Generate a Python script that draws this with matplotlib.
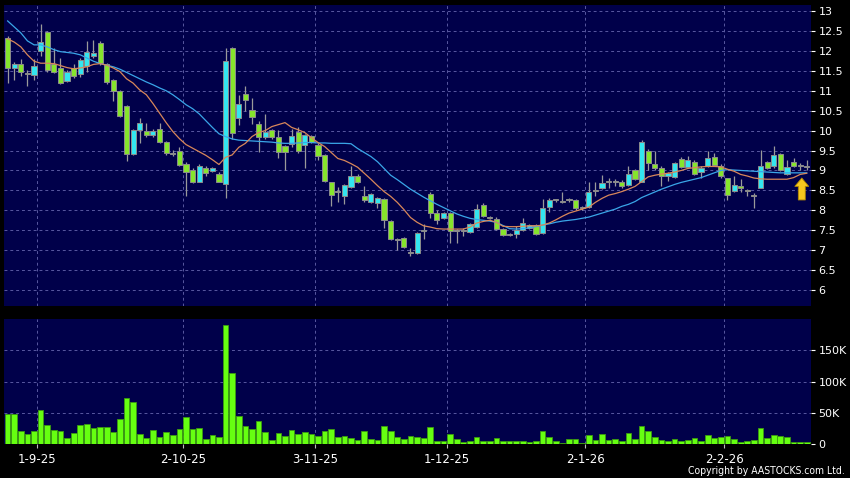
import matplotlib
matplotlib.use("Agg")
import matplotlib.pyplot as plt
from matplotlib.ticker import FuncFormatter, FixedLocator
import numpy as np

# ---------------- data ----------------
opens = [12.32, 11.57, 11.67, 11.44, 11.40, 12.00, 12.48, 11.67, 11.58, 11.25,
         11.57, 11.42, 11.62, 11.86, 12.19, 11.67, 11.26, 11.00, 10.61, 9.42,
         10.02, 9.99, 9.89, 10.03, 9.72, 9.44, 9.50, 9.17, 9.01, 8.72,
         9.07, 8.99, 8.91, 8.66, 12.07, 10.31, 10.91, 10.52, 10.16, 9.83,
         10.02, 9.83, 9.62, 9.67, 9.96, 9.64, 9.87, 9.64, 9.40, 8.70,
         8.46, 8.35, 8.58, 8.87, 8.35, 8.21, 8.18, 8.29, 7.74, 7.27,
         7.30, 6.95, 6.93, 7.48, 8.40, 7.93, 7.80, 7.93, 7.48, 7.50,
         7.45, 7.59, 8.13, 7.83, 7.79, 7.53, 7.40, 7.40, 7.51, 7.55,
         7.62, 7.43, 8.08, 8.26, 8.23, 8.27, 8.26, 8.06, 8.08, 8.49,
         8.56, 8.71, 8.71, 8.72, 8.64, 9.00, 8.72, 9.50, 9.17, 9.07,
         8.86, 8.83, 9.28, 9.08, 9.20, 8.96, 9.10, 9.33, 9.12, 8.80,
         8.49, 8.62, 8.52, 8.37, 8.57, 9.20, 9.10, 9.41, 8.91, 9.21,
         9.11, 9.09]
highs = [12.38, 11.73, 11.79, 11.52, 11.80, 12.67, 12.50, 12.07, 11.82, 11.52,
         11.66, 11.82, 12.25, 12.28, 12.25, 11.70, 11.30, 11.02, 10.63, 10.05,
         10.32, 10.19, 10.05, 10.19, 9.75, 9.52, 9.60, 9.20, 9.05, 9.15,
         9.10, 9.08, 8.95, 12.06, 12.10, 10.88, 11.12, 10.82, 10.25, 10.41,
         10.05, 10.02, 9.65, 10.05, 10.10, 9.92, 9.90, 9.68, 9.42, 8.72,
         8.58, 8.67, 9.10, 8.90, 8.60, 8.44, 8.33, 8.31, 7.76, 7.30,
         7.33, 7.05, 7.46, 7.65, 8.45, 8.02, 7.96, 7.96, 7.52, 7.55,
         7.68, 8.16, 8.18, 7.86, 7.82, 7.56, 7.43, 7.60, 7.80, 7.66,
         7.65, 8.28, 8.32, 8.28, 8.45, 8.30, 8.28, 8.10, 8.70, 8.70,
         8.88, 8.80, 8.78, 8.75, 9.10, 9.03, 9.77, 9.53, 9.50, 9.10,
         8.96, 9.21, 9.33, 9.37, 9.27, 9.10, 9.50, 9.43, 9.15, 8.82,
         8.86, 8.78, 8.54, 8.44, 9.52, 9.23, 9.61, 9.44, 9.25, 9.30,
         9.18, 9.25]
lows = [11.19, 11.27, 11.36, 11.11, 11.27, 11.86, 11.48, 11.44, 11.17, 11.22,
        11.33, 11.35, 11.46, 11.82, 11.65, 11.18, 10.75, 10.33, 9.23, 9.40,
        9.70, 9.85, 9.85, 9.70, 9.40, 9.35, 9.10, 8.36, 8.68, 8.70,
        8.85, 8.95, 8.70, 8.31, 9.80, 10.14, 10.50, 10.17, 9.47, 9.80,
        9.80, 9.30, 9.00, 9.58, 9.45, 9.07, 9.70, 9.25, 8.72, 8.10,
        8.20, 8.15, 8.55, 8.68, 8.22, 8.18, 8.05, 7.55, 7.25, 7.00,
        7.06, 6.85, 6.90, 7.27, 7.80, 7.66, 7.77, 7.19, 7.18, 7.35,
        7.42, 7.56, 7.83, 7.78, 7.50, 7.36, 7.36, 7.30, 7.48, 7.52,
        7.37, 7.40, 7.95, 8.22, 8.18, 8.22, 8.02, 8.00, 8.05, 8.35,
        8.53, 8.55, 8.60, 8.55, 8.60, 8.75, 8.70, 9.00, 9.00, 8.60,
        8.73, 8.80, 9.05, 9.05, 8.88, 8.80, 9.08, 9.11, 8.80, 8.27,
        8.46, 8.45, 8.35, 8.05, 8.55, 9.03, 9.07, 8.98, 8.88, 9.09,
        9.02, 9.00]
closes = [11.57, 11.67, 11.47, 11.41, 11.63, 12.21, 11.52, 11.48, 11.19, 11.48,
          11.37, 11.76, 11.98, 11.94, 11.69, 11.22, 11.00, 10.36, 9.42, 10.02,
          10.19, 9.89, 10.00, 9.72, 9.43, 9.42, 9.14, 8.97, 8.71, 9.12,
          8.93, 9.05, 8.72, 11.75, 9.93, 10.66, 10.77, 10.35, 9.83, 9.97,
          9.83, 9.47, 9.47, 9.87, 9.50, 9.89, 9.72, 9.37, 8.74, 8.39,
          8.45, 8.64, 8.87, 8.70, 8.25, 8.41, 8.30, 7.76, 7.28, 7.26,
          7.08, 6.94, 7.43, 7.51, 7.93, 7.76, 7.93, 7.47, 7.47, 7.49,
          7.65, 8.03, 7.86, 7.81, 7.53, 7.39, 7.39, 7.51, 7.69, 7.62,
          7.40, 8.05, 8.26, 8.25, 8.22, 8.26, 8.05, 8.05, 8.47, 8.48,
          8.68, 8.70, 8.70, 8.62, 8.91, 8.78, 9.72, 9.18, 9.06, 8.86,
          8.93, 9.18, 9.08, 9.27, 8.91, 9.07, 9.31, 9.14, 8.86, 8.39,
          8.64, 8.56, 8.49, 8.36, 9.12, 9.06, 9.40, 9.01, 9.08, 9.12,
          9.10, 9.08]
ma_short = [12.30, 12.22, 12.10, 11.90, 11.74, 11.69, 11.69, 11.68, 11.63, 11.58,
            11.55, 11.57, 11.60, 11.66, 11.68, 11.64, 11.57, 11.48, 11.30, 11.19,
            11.02, 10.90, 10.68, 10.44, 10.20, 9.98, 9.80, 9.65, 9.56, 9.47,
            9.38, 9.27, 9.15, 9.33, 9.39, 9.58, 9.68, 9.85, 9.95, 10.00,
            10.10, 10.15, 10.20, 10.08, 10.02, 9.95, 9.82, 9.70, 9.60, 9.45,
            9.30, 9.25, 9.17, 9.08, 8.93, 8.78, 8.62, 8.47, 8.35, 8.20,
            8.02, 7.82, 7.70, 7.61, 7.58, 7.54, 7.53, 7.53, 7.53, 7.53,
            7.58, 7.68, 7.72, 7.75, 7.70, 7.60, 7.59, 7.59, 7.60, 7.61,
            7.61, 7.63, 7.68, 7.76, 7.85, 7.93, 7.98, 8.03, 8.08, 8.20,
            8.30, 8.38, 8.42, 8.47, 8.53, 8.60, 8.72, 8.84, 8.88, 8.91,
            8.93, 8.96, 9.00, 9.05, 9.07, 9.09, 9.10, 9.10, 9.09, 9.03,
            8.98, 8.90, 8.86, 8.81, 8.79, 8.78, 8.78, 8.78, 8.78, 8.82,
            8.90, 8.93]
ma_long = [12.75, 12.60, 12.45, 12.25, 12.15, 12.15, 12.10, 12.03, 11.98, 11.96,
           11.94, 11.90, 11.82, 11.74, 11.68, 11.64, 11.60, 11.54, 11.46, 11.38,
           11.30, 11.22, 11.15, 11.07, 11.00, 10.90, 10.78, 10.65, 10.55, 10.42,
           10.25, 10.08, 9.92, 9.85, 9.79, 9.76, 9.75, 9.74, 9.73, 9.72,
           9.71, 9.69, 9.68, 9.68, 9.69, 9.70, 9.70, 9.69, 9.69, 9.68,
           9.68, 9.68, 9.67, 9.55, 9.45, 9.35, 9.22, 9.05, 8.88, 8.77,
           8.65, 8.53, 8.43, 8.33, 8.24, 8.15, 8.07, 7.99, 7.91, 7.85,
           7.80, 7.77, 7.75, 7.73, 7.70, 7.62, 7.54, 7.53, 7.54, 7.56,
           7.59, 7.63, 7.66, 7.70, 7.73, 7.75, 7.77, 7.80, 7.83, 7.88,
           7.93, 7.98, 8.03, 8.10, 8.15, 8.22, 8.32, 8.39, 8.46, 8.53,
           8.59, 8.65, 8.70, 8.74, 8.78, 8.82, 8.88, 8.94, 9.00, 9.02,
           9.01, 9.00, 8.99, 8.98, 8.97, 8.96, 8.95, 8.94, 8.94, 8.94,
           8.94, 8.94]
volume_k = [48.4, 48.4, 21.5, 16.1, 21.5, 53.8, 30.6, 23.1, 21.5, 9.7,
            18.3, 31.2, 32.3, 25.3, 26.9, 26.9, 18.8, 39.8, 74.2, 66.7,
            16.7, 10.2, 23.1, 10.8, 19.9, 14.5, 24.2, 42.5, 24.7, 26.3,
            8.6, 14.5, 10.8, 190.9, 112.9, 45.2, 29.6, 23.7, 37.6, 19.9,
            7.0, 18.3, 13.4, 23.1, 16.1, 19.9, 16.1, 12.9, 21.5, 24.2,
            10.8, 13.4, 9.7, 7.0, 21.5, 8.6, 6.5, 29.6, 21.5, 10.8,
            8.1, 12.9, 11.8, 10.2, 28.0, 4.3, 5.4, 16.1, 7.5, 3.8,
            5.4, 10.8, 5.4, 4.3, 9.7, 5.4, 4.3, 5.4, 5.4, 2.7,
            4.3, 20.4, 11.8, 4.3, 1.1, 8.6, 7.5, 1.1, 14.5, 6.5,
            16.1, 6.5, 7.5, 5.4, 17.7, 7.5, 29.6, 21.5, 10.8, 6.5,
            5.4, 7.5, 4.3, 6.5, 9.7, 5.4, 14.0, 9.7, 11.8, 12.9,
            8.6, 3.8, 4.3, 7.0, 25.3, 10.2, 14.5, 12.4, 10.8, 3.8,
            3.8, 3.8]
date_tick_index = [5, 27, 47, 67, 88, 109]
date_tick_labels = ["1-9-25", "2-10-25", "3-11-25", "1-12-25", "2-1-26", "2-2-26"]
price_ticks = [6, 6.5, 7, 7.5, 8, 8.5, 9, 9.5, 10, 10.5, 11, 11.5, 12, 12.5, 13]
volume_ticks = [0, 50000, 100000, 150000]

# ---------------- style ----------------
BG = "#00004a"
GRID = "#5858a0"
UP = "#33e6f0"
DOWN = "#86e52c"
DOJI = "#a8a8a8"
WICK = "#9a9a9a"
VOL = "#66ff11"
VOL_EDGE = "#3c9c10"

n = len(closes)
x = np.arange(n)
o = np.array(opens); c = np.array(closes)
h = np.array(highs); l = np.array(lows)
vol = np.array(volume_k) * 1000

W, H = 850, 478
fig = plt.figure(figsize=(W / 100, H / 100), dpi=100, facecolor="black")
axp = fig.add_axes([4 / W, 1 - 306 / H, (810.7 - 4) / W, (306 - 5) / H])
axv = fig.add_axes([4 / W, 1 - 444 / H, (810.7 - 4) / W, (444 - 319) / H], sharex=axp)

for ax in (axp, axv):
    ax.set_facecolor(BG)
    for s in ax.spines.values():
        s.set_visible(False)
    ax.yaxis.tick_right()
    ax.tick_params(axis="y", colors="white", labelcolor="white", length=3,
                   width=0.8, pad=2.5, labelsize=8)
    ax.set_axisbelow(True)

xlim = (-0.55, n - 1 + 0.6)
axp.set_xlim(*xlim)

# grid
grid_x = [i - 0.5 for i in date_tick_index]
axp.set_ylim(5.6, 13.15)
axp.yaxis.set_major_locator(FixedLocator(price_ticks))
axp.yaxis.set_major_formatter(FuncFormatter(lambda v, p: f"{v:g}"))
for yv in price_ticks:
    axp.axhline(yv, color=GRID, lw=0.7, ls=(0, (3, 3)), zorder=0)
for xv in grid_x:
    axp.axvline(xv, color=GRID, lw=0.7, ls=(0, (3, 3)), zorder=0)
    axv.axvline(xv, color=GRID, lw=0.7, ls=(0, (3, 3)), zorder=0)

# candles
body_w = 0.78
diff = c - o
is_doji = np.abs(diff) < 0.02
colors = np.where(is_doji, DOJI, np.where(diff > 0, UP, DOWN))
axp.vlines(x, l, h, color=WICK, lw=0.9, zorder=2)
bottoms = np.minimum(o, c)
heights = np.maximum(np.abs(diff), 0.025)
axp.bar(x, heights, bottom=bottoms, width=body_w, color=colors,
        edgecolor="#8c8c8c", linewidth=0.7, zorder=3)

# moving averages
axp.plot(x, ma_long, color="#3aa6e8", lw=0.9, zorder=4)
axp.plot(x, ma_short, color="#d8875a", lw=0.9, zorder=4)

# marker arrow at last bar
axp.annotate("", xy=(n - 1 - 0.75, l[-1] - 0.19), xytext=(n - 1 - 0.75, l[-1] - 0.74),
             arrowprops=dict(arrowstyle="simple,head_length=0.6,head_width=1.0,tail_width=0.5",
                             mutation_scale=10, facecolor="#f7c81e",
                             edgecolor="#b58a00", lw=0.6, shrinkA=0, shrinkB=0),
             zorder=6)

axp.tick_params(axis="x", bottom=False, labelbottom=False)

# volume
axv.set_ylim(0, 200000)
axv.yaxis.set_major_locator(FixedLocator(volume_ticks))
axv.yaxis.set_major_formatter(FuncFormatter(lambda v, p: "0" if v == 0 else f"{int(v / 1000)}K"))
for yv in volume_ticks[1:]:
    axv.axhline(yv, color=GRID, lw=0.7, ls=(0, (3, 3)), zorder=0)
axv.bar(x, vol, width=0.86, color=VOL, edgecolor=VOL_EDGE, linewidth=0.6, zorder=3)

axv.xaxis.set_major_locator(FixedLocator(grid_x))
axv.set_xticklabels(date_tick_labels)
axv.tick_params(axis="x", colors="#bbbbbb", labelcolor="white", length=3,
                width=0.8, pad=3.5, labelsize=8.5)

fig.text(845 / W, 1 - 471.5 / H, "Copyright by AASTOCKS.com Ltd.", color="white",
         ha="right", va="center", fontsize=7.5, fontstretch="condensed")

fig.savefig("out.png", dpi=100, facecolor="black")
